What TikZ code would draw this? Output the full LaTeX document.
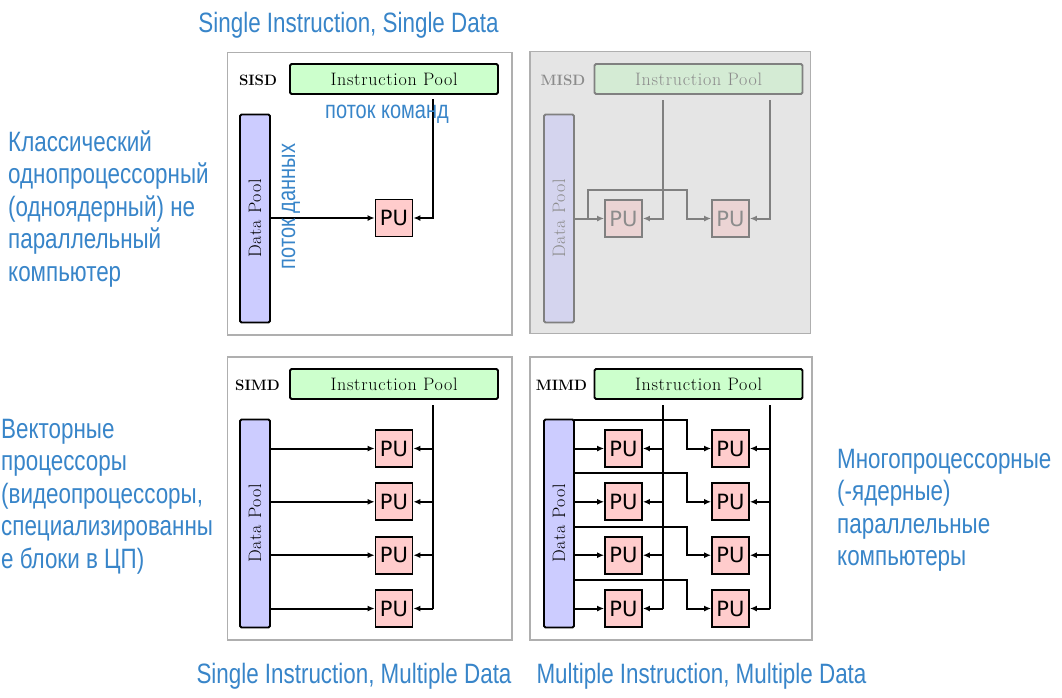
\documentclass[tikz,border=0pt]{standalone}
\usepackage{fontspec}
\usetikzlibrary{arrows.meta}
\newfontfamily\bluefont[FakeStretch=0.8]{Liberation Sans}
\newfontfamily\pufont{DejaVu Sans}
\newfontfamily\poolfont[LetterSpace=4.0]{Latin Modern Roman}
\definecolor{fblue}{RGB}{56,133,201}
\definecolor{ipgreen}{RGB}{204,255,204}
\definecolor{dplav}{RGB}{204,204,255}
\definecolor{pupink}{RGB}{255,204,204}
\definecolor{panelgray}{RGB}{175,175,175}
\definecolor{misdbg}{RGB}{229,229,229}
\definecolor{fline}{RGB}{128,128,128}
\definecolor{fgreen}{RGB}{212,235,212}
\definecolor{flav}{RGB}{212,212,238}
\definecolor{fpink}{RGB}{235,212,212}
\definecolor{ftext}{RGB}{140,140,140}
\tikzset{
  panel/.style={draw=panelgray, line width=1.5pt},
  ipool/.style={draw, line width=1.8pt, fill=ipgreen, rounded corners=1.5pt, minimum width=208pt, minimum height=30pt, inner sep=0pt, font=\poolfont\fontsize{18}{18}\selectfont},
  dpool/.style={draw, line width=1.8pt, fill=dplav, rounded corners=1.5pt, minimum width=30pt, minimum height=208pt, inner sep=0pt, font=\poolfont\fontsize{18}{18}\selectfont},
  pubox/.style={draw, line width=1.8pt, fill=pupink, minimum size=37pt, inner sep=0pt, font=\pufont\fontsize{21}{21}\selectfont},
  flabel/.style={inner sep=0pt, font=\bfseries\fontsize{15}{15}\selectfont},
  conn/.style={line width=2pt},
  arr/.style={conn, -{Latex[length=7pt,width=6pt]}},
  faded/.style={draw=fline, text=ftext},
  fconn/.style={conn, draw=fline},
  farr/.style={arr, draw=fline},
  bluetxt/.style={text=fblue, inner sep=0pt, font=\bluefont\fontsize{28}{32.5}\selectfont},
  bluesmall/.style={text=fblue, inner sep=0pt, font=\bluefont\fontsize{25}{25}\selectfont},
}
\begin{document}
\begin{tikzpicture}[x=1pt,y=-1pt]
\useasboundingbox[fill=white] (0,0) rectangle (1062,697);

% ---------- SISD ----------
\draw[panel] (227.5,52.5) rectangle (512,335);
\node[flabel] (sisd-tag) at (258,80) {SISD};
\node[ipool] (sisd-ip) at (394,79) {Instruction Pool};
\node[dpool] (sisd-dp) at (255,218.5) {\rotatebox{90}{Data Pool}};
\node[pubox] (sisd-pu) at (394,218) {PU};
\coordinate (sisd-i) at (433,99);
\draw[arr] (sisd-dp.east |- sisd-pu.west) -- (sisd-pu.west);
\draw[arr] (sisd-i) |- (sisd-pu.east);
\node[bluesmall, anchor=base] (sisd-cmd) at (387,118) {поток команд};
\node[bluesmall, anchor=base, rotate=90] (sisd-data) at (295,206.5) {поток данных};

% ---------- MISD ----------
\draw[panel, fill=misdbg] (530,51.5) rectangle (810.5,333.5);
\node[flabel, text=ftext] (misd-tag) at (563,80) {MISD};
\node[ipool, faded, fill=fgreen] (misd-ip) at (698.5,79) {Instruction Pool};
\node[dpool, faded, fill=flav] (misd-dp) at (559,218.5) {\rotatebox{90}{Data Pool}};
\node[pubox, faded, fill=fpink] (misd-pu1) at (623.5,218.5) {PU};
\node[pubox, faded, fill=fpink] (misd-pu2) at (730.5,218.5) {PU};
\coordinate (misd-i1) at (663,100);
\coordinate (misd-i2) at (770,100);
\coordinate (misd-b) at (588,218.5);
\coordinate (misd-j) at (687,190);
\draw[farr] (misd-dp.east |- misd-pu1.west) -- (misd-pu1.west);
\draw[farr] (misd-b) |- (misd-j) |- (misd-pu2.west);
\draw[farr] (misd-i1) |- (misd-pu1.east);
\draw[farr] (misd-i2) |- (misd-pu2.east);

% ---------- SIMD ----------
\draw[panel] (227.5,357) rectangle (512,640);
\node[flabel] (simd-tag) at (257.5,385.5) {SIMD};
\node[ipool] (simd-ip) at (394,384) {Instruction Pool};
\node[dpool] (simd-dp) at (255,523.5) {\rotatebox{90}{Data Pool}};
\node[pubox] (simd-pu1) at (394,448.5) {PU};
\node[pubox] (simd-pu2) at (394,501.8) {PU};
\node[pubox] (simd-pu3) at (394,555.2) {PU};
\node[pubox] (simd-pu4) at (394,608.5) {PU};
\coordinate (simd-i) at (433,405);
\draw[conn] (simd-i) -- (simd-i |- simd-pu4.east);
\foreach \k in {1,2,3,4}{
  \draw[arr] (simd-dp.east |- simd-pu\k.west) -- (simd-pu\k.west);
  \draw[arr] (simd-i |- simd-pu\k.east) -- (simd-pu\k.east);
}

% ---------- MIMD ----------
\draw[panel] (530,357) rectangle (812,640);
\node[flabel] (mimd-tag) at (561.5,385) {MIMD};
\node[ipool] (mimd-ip) at (698.5,384) {Instruction Pool};
\node[dpool] (mimd-dp) at (559,523.5) {\rotatebox{90}{Data Pool}};
\foreach \k/\y/\yd in {1/448.5/420, 2/501.8/473.3, 3/555.2/526.7, 4/608.5/580}{
  \node[pubox] (mimd-pl\k) at (623.5,\y) {PU};
  \node[pubox] (mimd-pr\k) at (730.5,\y) {PU};
  \coordinate (mimd-d\k) at (574,\yd);
  \coordinate (mimd-j\k) at (687,\yd);
}
\coordinate (mimd-i1) at (663,405);
\coordinate (mimd-i2) at (770,405);
\draw[conn] (mimd-i1) -- (mimd-i1 |- mimd-pl4.east);
\draw[conn] (mimd-i2) -- (mimd-i2 |- mimd-pr4.east);
\foreach \k in {1,2,3,4}{
  \draw[arr] (mimd-dp.east |- mimd-pl\k.west) -- (mimd-pl\k.west);
  \draw[arr] (mimd-d\k) -- (mimd-j\k) |- (mimd-pr\k.west);
  \draw[arr] (mimd-i1 |- mimd-pl\k.east) -- (mimd-pl\k.east);
  \draw[arr] (mimd-i2 |- mimd-pr\k.east) -- (mimd-pr\k.east);
}

% ---------- blue captions ----------
\node[bluetxt, anchor=base] (t-sisd) at (348.5,32) {Single Instruction, Single Data};
\node[bluetxt, anchor=base] (t-simd) at (354,683) {Single Instruction, Multiple Data};
\node[bluetxt, anchor=base] (t-mimd) at (701.5,683) {Multiple Instruction, Multiple Data};
\node[bluetxt, anchor=base west, align=left] (c-sisd) at (8,281) {Классический\\однопроцессорный\\(одноядерный) не\\параллельный\\компьютер};
\node[bluetxt, anchor=base west, align=left] (c-simd) at (1,568) {Векторные\\процессоры\\(видеопроцессоры,\\специализированны\\е блоки в ЦП)};
\node[bluetxt, anchor=base west, align=left] (c-mimd) at (837,565.5) {Многопроцессорные\\(-ядерные)\\параллельные\\компьютеры};
\end{tikzpicture}
\end{document}
